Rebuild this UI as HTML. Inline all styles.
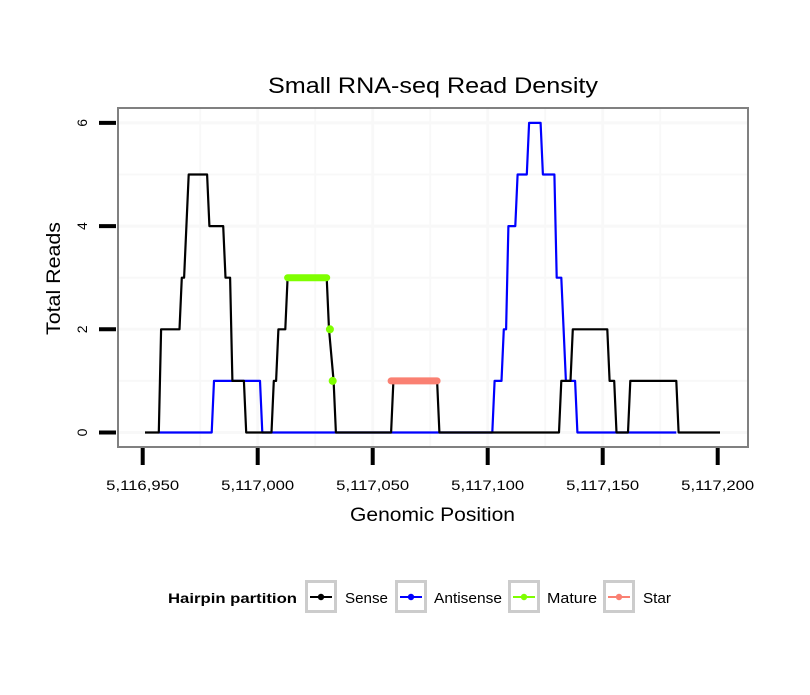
<!DOCTYPE html>
<html><head><meta charset="utf-8"><style>
body{margin:0;background:#fff;}
svg text{font-family:"Liberation Sans",sans-serif;}
</style></head><body>
<svg id="chart" width="810" height="690" viewBox="0 0 810 690">
<rect width="810" height="690" fill="#fff"/>
<text x="268" y="93" font-size="22" textLength="330" lengthAdjust="spacingAndGlyphs">Small RNA-seq Read Density</text>
<g id="grid"></g>
<g id="series"></g>
<rect x="118" y="108" width="630" height="339" fill="none" stroke="#808080" stroke-width="2"/>
<g id="axes"></g>
<text x="350" y="521" font-size="19" textLength="165" lengthAdjust="spacingAndGlyphs">Genomic Position</text>
<text transform="translate(60,335) rotate(-90)" font-size="19" textLength="113" lengthAdjust="spacingAndGlyphs">Total Reads</text>
<g>
<text x="168" y="603" font-size="14" font-weight="bold" textLength="129" lengthAdjust="spacingAndGlyphs">Hairpin partition</text>
<g id="legend"></g>
</g>
</svg>
<script>
const xTicks=[5116950,5117000,5117050,5117100,5117150,5117200];
const xTickLabels=["5,116,950","5,117,000","5,117,050","5,117,100","5,117,150","5,117,200"];
const yTicks=[0,2,4,6];
const senseX=[5116951,5116957,5116958,5116966,5116967,5116968,5116970,5116978,5116979,5116985,5116986,5116988,5116989,5116994,5116995,5117006,5117007,5117008,5117009,5117012,5117013,5117030,5117031,5117033,5117034,5117058,5117059,5117078,5117079,5117131,5117132,5117136,5117137,5117152,5117153,5117155,5117156,5117161,5117162,5117182,5117183,5117201];
const senseY=[0,0,2,2,3,3,5,5,4,4,3,3,1,1,0,0,1,1,2,2,3,3,2,1,0,0,1,1,0,0,1,1,2,2,1,1,0,0,1,1,0,0];
const antiX=[5116957,5116980,5116981,5117001,5117002,5117102,5117103,5117106,5117107,5117108,5117109,5117112,5117113,5117117,5117118,5117123,5117124,5117129,5117130,5117132,5117134,5117138,5117139,5117182];
const antiY=[0,0,1,1,0,0,1,1,2,2,4,4,5,5,6,6,5,5,3,3,1,1,0,0];
const matureBar=[5117013,5117030]; const matureBarY=3;
const matureX=[5117031.4,5117032.6]; const matureY=[2,1];
const starBar=[5117058,5117078]; const starBarY=1;
const legendLabels=["Sense","Antisense","Mature","Star"];
const legendColors=["#000000","#0000ff","#7fff00","#fa8072"];

const NS="http://www.w3.org/2000/svg";
const X=v=>142.7+(v-5116950)*2.3;
const Y=v=>432.5-v*51.6;
function mk(tag,attrs,parent){const e=document.createElementNS(NS,tag);for(const k in attrs)e.setAttribute(k,attrs[k]);parent.appendChild(e);return e;}
const grid=document.getElementById('grid'),axes=document.getElementById('axes'),ser=document.getElementById('series'),leg=document.getElementById('legend');
for(let v=0;v<=6;v++){const l=mk('line',{x1:119,x2:747,y1:Y(v),y2:Y(v),stroke:'#f8f8f8','stroke-width':v%2?2:3},grid);

}
for(let v=5116975;v<=5117175;v+=25){const l=mk('line',{x1:X(v),x2:X(v),y1:109,y2:446,stroke:'#f8f8f8','stroke-width':(v%50)?2:3},grid);

}
xTicks.forEach((t,i)=>{const l=mk('line',{x1:X(t),x2:X(t),y1:448,y2:465,stroke:'#000','stroke-width':4},axes);


const tx=mk('text',{x:X(t)-36.5,y:490,'font-size':14,textLength:73,lengthAdjust:'spacingAndGlyphs'},axes);tx.textContent=xTickLabels[i];

});
yTicks.forEach(t=>{const l=mk('line',{x1:99,x2:116,y1:Y(t),y2:Y(t),stroke:'#000','stroke-width':4},axes);


const tx=mk('text',{transform:`translate(87,${Y(t)}) rotate(-90)`,'font-size':14,'text-anchor':'middle'},axes);tx.textContent=t;

});
function pl(xs,ys,c,w,name){const p=mk('polyline',{points:xs.map((x,i)=>X(x)+','+Y(ys[i])).join(' '),fill:'none',stroke:c,'stroke-width':w,'stroke-linejoin':'round'},ser);

}
pl(antiX,antiY,'#0000ff',2.2,'antisense-line');
pl(senseX,senseY,'#000',2.2,'sense-line');
const mb=mk('line',{x1:X(matureBar[0]),x2:X(matureBar[1]),y1:Y(matureBarY),y2:Y(matureBarY),stroke:'#7fff00','stroke-width':7,'stroke-linecap':'round'},ser);


matureX.forEach((x,i)=>{const c=mk('circle',{cx:X(x),cy:Y(matureY[i]),r:4,fill:'#7fff00'},ser);

});
const sb=mk('line',{x1:X(starBar[0]),x2:X(starBar[1]),y1:Y(starBarY),y2:Y(starBarY),stroke:'#fa8072','stroke-width':7,'stroke-linecap':'round'},ser);


const keyX=[305,395,508,603];
const textX=[345,434,547,643];
const textW=[43,68,50,28];
legendLabels.forEach((lb,i)=>{const g=mk('g',{},leg);


const k=keyX[i];
mk('rect',{x:k+1.5,y:581.5,width:29,height:30,fill:'#fff',stroke:'#ccc','stroke-width':3},g);
mk('line',{x1:k+5,x2:k+27,y1:597,y2:597,stroke:legendColors[i],'stroke-width':2},g);
mk('circle',{cx:k+16,cy:597,r:3.2,fill:legendColors[i]},g);
const t=mk('text',{x:textX[i],y:603,'font-size':15,textLength:textW[i],lengthAdjust:'spacingAndGlyphs'},g);t.textContent=lb;});
</script>
</body></html>
